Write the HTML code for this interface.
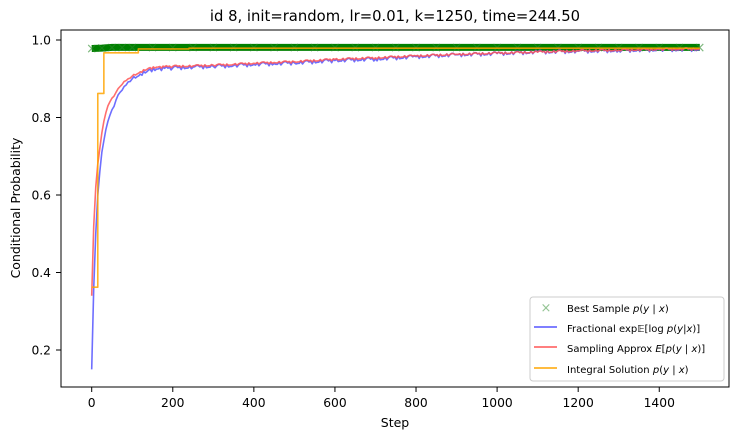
<!DOCTYPE html>
<html><head><meta charset="utf-8"><style>
body{margin:0;background:#fff;font-family:"Liberation Sans","DejaVu Sans",sans-serif}
svg text{font-family:"DejaVu Sans","Liberation Sans",sans-serif}
</style></head><body>
<svg id="chart" width="740" height="440" viewBox="0 0 740 440">
<rect width="740" height="440" fill="#fff"/>
<text x="395" y="21" font-size="14.8" text-anchor="middle">id 8, init=random, lr=0.01, k=1250, time=244.50</text>
<g id="plot"></g>
<rect x="61" y="30" width="668" height="357" fill="none" stroke="#000" stroke-width="1"/>
<text x="395" y="427" font-size="12.5" text-anchor="middle">Step</text>
<text x="20" y="208" font-size="12.5" text-anchor="middle" transform="rotate(-90 20 208)">Conditional Probability</text>
<g>
<rect x="530" y="297" width="194" height="84" rx="3" fill="#fff" stroke="#ccc" stroke-width="1"/>
<text x="546" y="312" font-size="13" fill="#2a8a2a" opacity="0.5" text-anchor="middle">×</text>
<text x="567" y="312" font-size="10">Best Sample <tspan font-style="italic">p</tspan>(<tspan font-style="italic">y</tspan> | <tspan font-style="italic">x</tspan>)</text>
<line x1="534" y1="327" x2="557" y2="327" stroke="#5555ff" stroke-width="1.5"/>
<text x="567" y="332" font-size="10">Fractional exp𝔼[log <tspan font-style="italic">p</tspan>(<tspan font-style="italic">y</tspan>|<tspan font-style="italic">x</tspan>)]</text>
<line x1="534" y1="347" x2="557" y2="347" stroke="#ff5555" stroke-width="1.5"/>
<text x="567" y="352" font-size="10">Sampling Approx <tspan font-style="italic">E</tspan>[<tspan font-style="italic">p</tspan>(<tspan font-style="italic">y</tspan> | <tspan font-style="italic">x</tspan>)]</text>
<line x1="534" y1="368" x2="557" y2="368" stroke="#ffa500" stroke-width="1.5"/>
<text x="567" y="373" font-size="10">Integral Solution <tspan font-style="italic">p</tspan>(<tspan font-style="italic">y</tspan> | <tspan font-style="italic">x</tspan>)</text>
</g>
</svg>
<script>
const xTicks=[0,200,400,600,800,1000,1200,1400];
const yTicks=[0.2,0.4,0.6,0.8,1.0];
const yTickLabels=["0.2","0.4","0.6","0.8","1.0"];
const bestSteps=[0,25,50,75,100,150,200,250,300,350,400,450,500,550,600,650,700,750,800,850,900,950,1000,1050,1100,1150,1200,1250,1300,1350,1400,1450,1500];
const bestValues=[0.978,0.979,0.981,0.981,0.981,0.981,0.981,0.981,0.981,0.981,0.981,0.981,0.981,0.981,0.981,0.981,0.981,0.981,0.981,0.981,0.981,0.981,0.981,0.981,0.981,0.981,0.981,0.981,0.981,0.981,0.981,0.981,0.981];
const fracSteps=[0,5,10,15,20,25,30,40,50,60,70,80,90,100,120,140,160,180,200,250,300,350,400,450,500,600,700,800,900,1000,1100,1200,1300,1400,1500];
const fracValues=[0.15,0.36,0.5,0.6,0.66,0.71,0.74,0.79,0.82,0.845,0.865,0.88,0.892,0.9,0.912,0.922,0.925,0.927,0.928,0.93,0.932,0.934,0.937,0.939,0.941,0.947,0.951,0.957,0.962,0.965,0.969,0.971,0.973,0.975,0.976];
const sampSteps=[0,5,10,15,20,25,30,40,50,60,70,80,90,100,120,140,160,180,200,250,300,350,400,450,500,600,700,800,900,1000,1100,1200,1300,1400,1500];
const sampValues=[0.34,0.52,0.62,0.68,0.72,0.76,0.79,0.83,0.85,0.865,0.88,0.893,0.9,0.907,0.918,0.927,0.93,0.931,0.932,0.933,0.935,0.937,0.94,0.942,0.944,0.95,0.954,0.959,0.963,0.966,0.969,0.972,0.974,0.976,0.977];
const intSteps=[0,15,15,30,30,115,115,240,240,1500];
const intValues=[0.362,0.362,0.862,0.862,0.967,0.967,0.977,0.977,0.979,0.979];
const noise=[0.003,-0.004,0.002,-0.002,0.004,-0.003,0.001,-0.005,0.003,0.000,-0.002,0.004];

const X=v=>91.7+v*0.4054;
const Y=v=>40+(1-v)*387.5;
const NS="http://www.w3.org/2000/svg";
const svg=document.getElementById('chart');
const plot=document.getElementById('plot');
function mk(tag,attrs,parent){const e=document.createElementNS(NS,tag);for(const k in attrs)e.setAttribute(k,attrs[k]);(parent||plot).appendChild(e);return e;}

xTicks.forEach(t=>{
  const l=mk('line',{x1:X(t),x2:X(t),y1:387,y2:392,stroke:'#000'},svg);
  
  
  const tx=mk('text',{x:X(t),y:407,'font-size':12.3,'text-anchor':'middle'},svg);
  tx.textContent=t;
  
  
});
yTicks.forEach((t,i)=>{
  const l=mk('line',{x1:56,x2:61,y1:Y(t),y2:Y(t),stroke:'#000'},svg);
  
  
  const tx=mk('text',{x:51,y:Y(t)+4.5,'font-size':12.3,'text-anchor':'end'},svg);
  tx.textContent=yTickLabels[i];
  
  
});

// best sample band
const bp=bestSteps.map((s,i)=>X(s)+','+Y(bestValues[i])).join(' ');
const band=mk('polyline',{points:bp,fill:'none',stroke:'#008000','stroke-width':7});


bestSteps.forEach((s,i)=>{
  const m=mk('text',{x:X(s),y:Y(bestValues[i])+4.5,'font-size':14,'text-anchor':'middle',fill:'#2a8a2a',opacity:0.6});
  m.textContent='×';
  
  
});

function series(steps,vals,color,name,jit){
  let pts=[];
  for(let i=0;i<steps.length;i++){
    pts.push(X(steps[i])+','+Y(vals[i]));
    if(jit&&i<steps.length-1){
      const a=steps[i],b=steps[i+1];
      const n=Math.max(1,Math.floor((b-a)/4));
      for(let k=1;k<n;k++){
        const s=a+(b-a)*k/n,v=vals[i]+(vals[i+1]-vals[i])*k/n+noise[(i*7+k*5)%noise.length]*jit;
        pts.push(X(s)+','+Y(v));
      }
    }
  }
  const p=mk('polyline',{points:pts.join(' '),fill:'none',stroke:color,'stroke-width':1.6,opacity:0.85,'stroke-linejoin':'round'});
  
  
}
series(fracSteps,fracValues,'#5555ff','fractional-series',1.0);
series(sampSteps,sampValues,'#ff5555','sampling-series',0.6);
series(intSteps,intValues,'#ffa500','integral-series',0);
</script>
</body></html>
